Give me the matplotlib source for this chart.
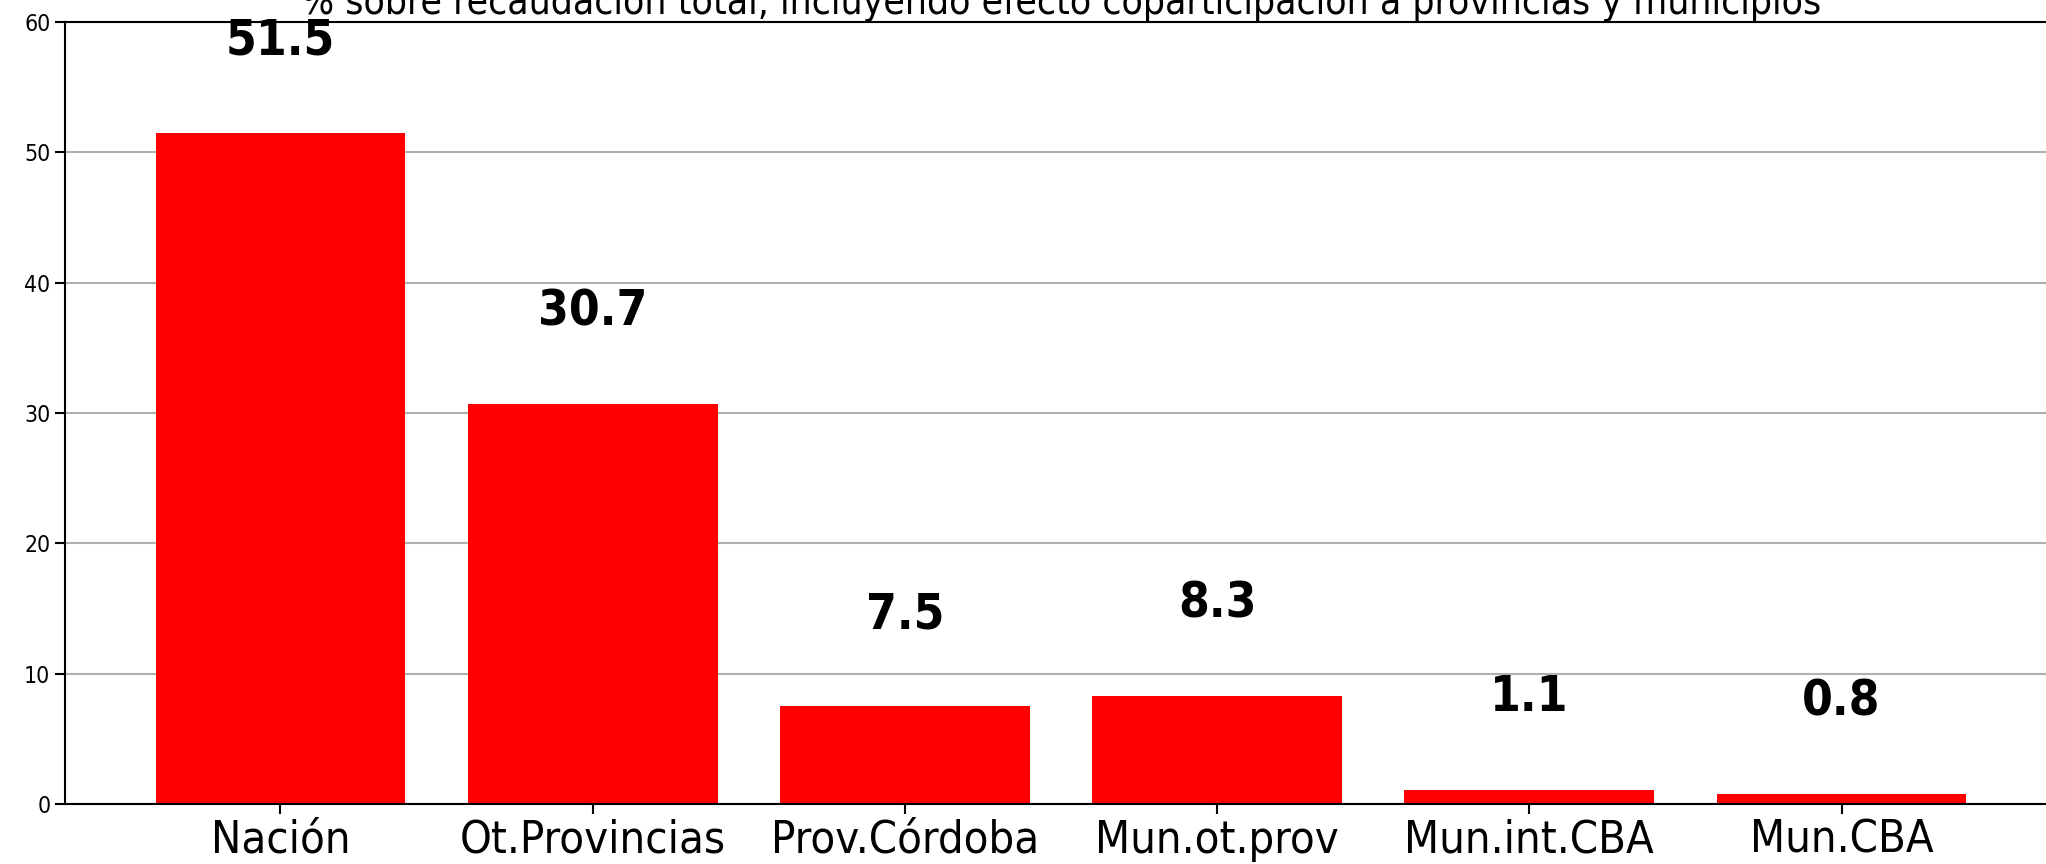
import matplotlib
matplotlib.use('Agg')
import matplotlib.pyplot as plt

categorias = ['Nación', 'Ot.Provincias', 'Prov.Córdoba', 'Mun.ot.prov', 'Mun.int.CBA', 'Mun.CBA']
valores = [51.5, 30.7, 7.5, 8.3, 1.1, 0.8]
titulo = '% sobre recaudación total, incluyendo efecto coparticipación a provincias y municipios'

plt.rcParams['font.family'] = ['DejaVu Sans']
plt.rcParams['font.stretch'] = 'condensed'

fig = plt.figure(figsize=(20.46, 8.64), dpi=100)
ax = fig.add_axes([65 / 2046, 60 / 864, 1992 / 2046, 782 / 864])

ax.bar(range(len(categorias)), valores, width=0.8, color='#ff0000')
for i, v in enumerate(valores):
    ax.text(i, v + 6, f'{v}', ha='center', fontsize=35.5, fontweight='bold')

ax.set_ylim(0, 60)
ax.set_xticks(range(len(categorias)))
ax.set_xticklabels(categorias, fontsize=32.5)
ax.tick_params(axis='y', labelsize=16.5, length=7, width=1.5)
ax.tick_params(axis='x', length=7, width=1.5)
ax.grid(axis='y', color='#b0b0b0', linewidth=1.5)
ax.set_axisbelow(True)
for s in ax.spines.values():
    s.set_linewidth(1.5)
ax.set_title(titulo, fontsize=28, pad=6)

fig.savefig('out.png', dpi=100)
